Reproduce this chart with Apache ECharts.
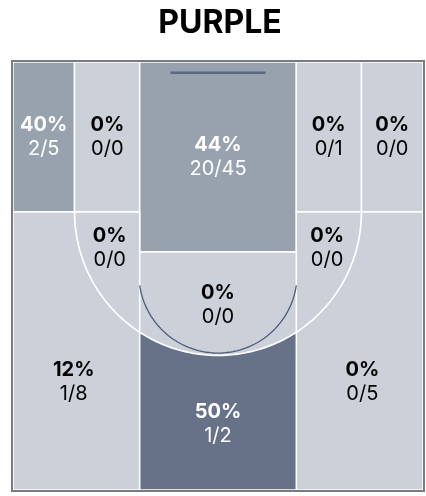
<!DOCTYPE html>
<html><head><meta charset="utf-8">
<script src="https://cdn.jsdelivr.net/npm/echarts@6/dist/echarts.min.js"></script>
<style>html,body{margin:0;padding:0;background:#fff}#c{width:426px;height:496px}</style>
</head><body><div id="c"></div>
<script>
// ---- data ----
const teamName = 'PURPLE';
const zoneNames = ['Left Corner 3', 'Left Baseline Mid', 'Paint', 'Right Baseline Mid', 'Right Corner 3',
  'Left Elbow Mid', 'Right Elbow Mid', 'Top Key Mid', 'Left Wing 3', 'Right Wing 3', 'Top 3'];
const zoneMakes    = [2, 0, 20, 0, 0, 0, 0, 0, 1, 0, 1];
const zoneAttempts = [5, 0, 45, 1, 0, 0, 0, 0, 8, 5, 2];

// ---- court geometry (feet, baseline at top) ----
const W = 25, L = 52.2;
const C3X = 17.5, PX = 9.55, SHY = 18.3, PY = 23.17;
const ARC = { cy: SHY, r: 17.5 };
const FT = { cy: 25.85, r: 9.65 };
const tA = Math.acos(PX / ARC.r), tB = Math.PI - tA;
function arcPts(c, t0, t1, n) {
  const pts = [];
  for (let i = 0; i <= n; i++) {
    const t = t0 + (t1 - t0) * i / n;
    pts.push([c.r * Math.cos(t), c.cy + c.r * Math.sin(t)]);
  }
  return pts;
}
const shapes = [
  [[-W, 0], [-C3X, 0], [-C3X, SHY], [-W, SHY]],
  [[-C3X, 0], [-PX, 0], [-PX, SHY], [-C3X, SHY]],
  [[-PX, 0], [PX, 0], [PX, PY], [-PX, PY]],
  [[PX, 0], [C3X, 0], [C3X, SHY], [PX, SHY]],
  [[C3X, 0], [W, 0], [W, SHY], [C3X, SHY]],
  [[-C3X, SHY], [-PX, SHY]].concat(arcPts(ARC, tB, Math.PI, 40)),
  [[PX, SHY], [C3X, SHY]].concat(arcPts(ARC, 0, tA, 40)),
  [[-PX, PY], [PX, PY]].concat(arcPts(ARC, tA, tB, 60)),
  [[-W, SHY], [-C3X, SHY]].concat(arcPts(ARC, Math.PI, tB, 40), [[-PX, L], [-W, L]]),
  arcPts(ARC, tA, 0, 40).concat([[W, SHY], [W, L], [PX, L]]),
  arcPts(ARC, tA, tB, 60).concat([[-PX, L], [PX, L]])
];
const labelAt = [[-21.25, 9.15], [-13.5, 9.15], [0, 11.6], [13.5, 9.15], [21.25, 9.15],
  [-13.2, 22.7], [13.3, 22.7], [0, 29.6], [-17.6, 39.0], [17.6, 39.0], [0, 44.1]];

function pctOf(i) { return zoneAttempts[i] ? Math.floor(100 * zoneMakes[i] / zoneAttempts[i]) : 0; }
function fillOf(p) { return p >= 50 ? '#677289' : (p >= 35 ? '#98a2ae' : '#cbd0d9'); }

const chart = echarts.init(document.getElementById('c'), null, { renderer: 'canvas' });
chart.setOption({
  animation: false,
  title: {
    text: teamName, left: 215, top: 2, textAlign: 'center',
    textStyle: { fontFamily: 'Inter', fontWeight: 'bold', fontSize: 32, color: '#000' }
  },
  grid: { left: 13, right: 3, top: 62, bottom: 6 },
  xAxis: { type: 'value', min: -W, max: W, show: false },
  yAxis: { type: 'value', min: 0, max: L, inverse: true, show: false },
  series: [{
    type: 'custom',
    clip: false,
    data: zoneNames.map((n, i) => [labelAt[i][0], labelAt[i][1], i]),
    encode: { x: 0, y: 1 },
    renderItem: function (params, api) {
      const i = api.value(2);
      const p = pctOf(i);
      const fill = fillOf(p);
      const txt = p >= 35 ? '#ffffff' : '#000000';
      const pts = shapes[i].map(q => api.coord(q));
      const c = api.coord([api.value(0), api.value(1)]);
      return {
        type: 'group',
        children: [
          { type: 'polygon', shape: { points: pts }, style: { fill: fill, stroke: '#ffffff', lineWidth: 1.5 } },
          { type: 'text', x: c[0], y: c[1], z2: 10,
            style: {
              text: '{p|' + p + '%}\n{f|' + zoneMakes[i] + '/' + zoneAttempts[i] + '}',
              align: 'center', verticalAlign: 'middle', fill: txt,
              rich: {
                p: { fontFamily: 'Inter', fontWeight: 'bold', fontSize: 20, lineHeight: 24, fill: txt, align: 'center' },
                f: { fontFamily: 'Inter', fontWeight: 'normal', fontSize: 20, lineHeight: 24, fill: txt, align: 'center' }
              }
            } }
        ]
      };
    }
  }, {
    type: 'custom',
    clip: false,
    z: 5,
    data: [[0, 0]],
    encode: { x: 0, y: 1 },
    renderItem: function (params, api) {
      const ft = arcPts(FT, Math.acos(PX / FT.r), Math.PI - Math.acos(PX / FT.r), 60).map(q => api.coord(q));
      const tl = api.coord([-W, 0]), br = api.coord([W, L]);
      const b1 = api.coord([-5.8, 1.3]), b2 = api.coord([5.8, 1.3]);
      return {
        type: 'group',
        children: [
          { type: 'polyline', shape: { points: ft }, style: { fill: null, stroke: '#4d5c78', lineWidth: 1.3 } },
          { type: 'line', shape: { x1: b1[0], y1: b1[1], x2: b2[0], y2: b2[1] }, style: { stroke: '#5a6a84', lineWidth: 2.5 } },
          { type: 'rect', shape: { x: tl[0] - 1, y: tl[1] - 1, width: br[0] - tl[0] + 2, height: br[1] - tl[1] + 2 },
            style: { fill: null, stroke: '#7b7b7b', lineWidth: 2 } }
        ]
      };
    }
  }]
});
</script>
</body></html>
